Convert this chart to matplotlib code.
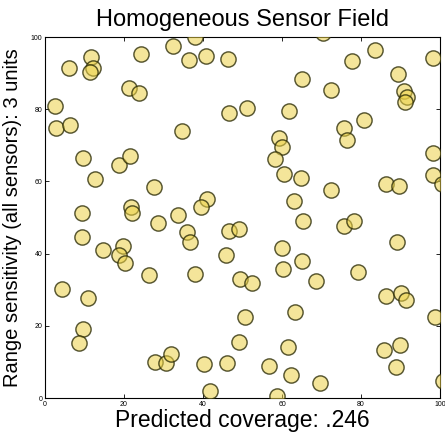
import matplotlib
matplotlib.use('Agg')
import matplotlib.pyplot as plt

# sensor positions
x = [2.5, 2.8, 6.3, 6.1, 11.6, 12.1, 11.4, 24.3, 32.3, 38.0, 36.5, 40.8, 46.2,
     21.3, 23.9, 46.5, 51.2, 34.6, 9.7, 12.7, 18.8, 21.4, 27.5, 40.9, 39.5,
     65.1, 61.7, 72.5, 77.8, 83.5, 89.4, 90.9, 91.6, 91.1, 98.1, 75.8, 76.4,
     80.8, 59.3, 60.1, 58.3, 60.4, 64.9, 72.5, 86.3, 89.5, 98.2, 98.1, 63.0,
     100.4, 70.3,
     9.5, 21.9, 22.0, 33.7, 28.7, 35.9, 36.7, 46.5, 49.0, 65.2, 75.8, 78.2,
     9.4, 14.6, 19.8, 18.7, 20.3, 26.4, 4.4, 11.0, 38.0, 45.8, 49.4, 52.4,
     60.1, 60.3, 65.1, 68.6, 63.3, 50.5, 79.1, 89.0, 86.3, 90.2, 91.3, 98.7,
     9.7, 8.5, 49.2, 61.6, 27.8, 30.6, 31.9, 40.3, 46.0, 56.8, 62.3, 69.6,
     41.8, 58.7, 85.8, 89.8, 88.9, 100.8]
y = [80.9, 74.8, 75.6, 91.4, 94.4, 91.3, 90.2, 95.3, 97.4, 100.0, 93.6, 94.8, 94.0,
     86.0, 84.6, 78.9, 80.3, 74.1, 66.4, 60.7, 64.6, 67.0, 58.6, 55.1, 53.0,
     88.4, 79.5, 85.3, 93.4, 96.4, 89.8, 85.0, 83.4, 82.0, 94.3, 74.7, 71.6,
     77.0, 72.1, 69.6, 66.2, 62.0, 61.0, 57.6, 59.3, 58.7, 68.0, 61.8, 54.6,
     59.3, 101.0,
     51.2, 52.9, 51.4, 50.7, 48.4, 45.9, 43.3, 46.3, 46.7, 49.1, 47.7, 49.0,
     44.5, 41.0, 42.2, 39.6, 37.3, 34.0, 30.1, 27.8, 34.5, 39.6, 33.0, 31.9,
     41.6, 35.7, 38.0, 32.5, 23.9, 22.4, 35.0, 43.3, 28.3, 29.0, 27.1, 22.5,
     19.0, 15.3, 15.6, 14.2, 10.1, 9.6, 12.1, 9.4, 9.8, 8.9, 6.4, 4.3,
     2.0, 0.6, 13.3, 14.7, 8.7, 4.7]
coverage = '.246'
sensitivity = 3

plt.rcParams['font.family'] = ['Liberation Sans', 'DejaVu Sans']
fig = plt.figure(figsize=(4.45, 4.36), dpi=100)
ax = fig.add_axes([0.101, 0.087, 0.888, 0.828])
ax.scatter(x, y, s=120, facecolor=(0.92, 0.82, 0.28, 0.55),
           edgecolor=(0.18, 0.18, 0.03, 0.8), linewidth=1.05, zorder=3)
ax.set_xlim(0, 100)
ax.set_ylim(0, 100)
ax.set_xticks([0, 20, 40, 60, 80, 100])
ax.set_yticks([0, 20, 40, 60, 80, 100])
ax.tick_params(direction='in', top=True, right=True, labelsize=5, length=3,
               width=0.6, pad=2)
for s in ax.spines.values():
    s.set_linewidth(0.8)
ax.set_title('Homogeneous Sensor Field', fontsize=17, pad=8)
ax.set_xlabel('Predicted coverage: ' + coverage, fontsize=16.5, labelpad=1)
ax.set_ylabel('Range sensitivity (all sensors): %d units' % sensitivity,
              fontsize=14.5, labelpad=6)

fig.savefig('out.png', dpi=100)
